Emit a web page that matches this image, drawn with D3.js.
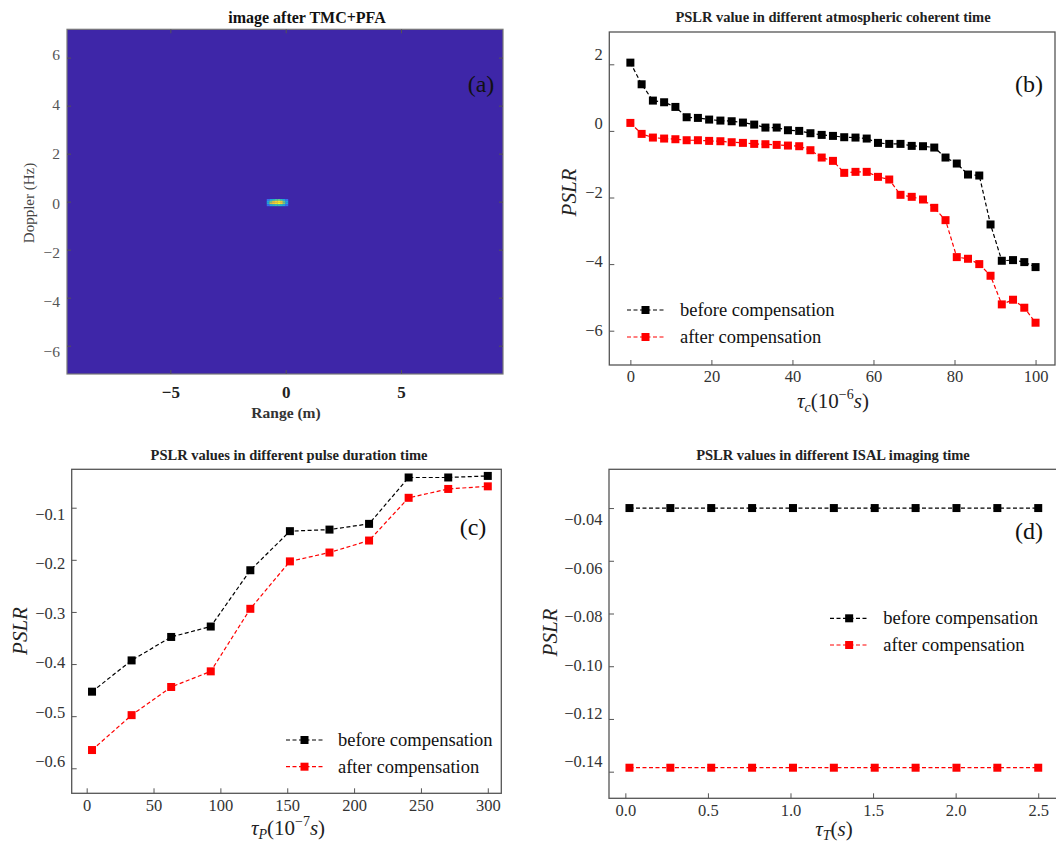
<!DOCTYPE html>
<html>
<head>
<meta charset="utf-8">
<script src="https://cdn.jsdelivr.net/npm/d3@7"></script>
<style>
  body { margin: 0; background: #fff; }
  svg { display: block; }
  svg text { font-family: "Liberation Serif", "Times New Roman", "DejaVu Serif", serif; }
</style>
</head>
<body>
<svg id="fig" width="1056" height="845"></svg>
<script>
// ---- (a) image after TMC+PFA ----
const rangeTicks = [-5, 0, 5];
const dopplerTicks = [6, 4, 2, 0, -2, -4, -6];
const blobRange = [-0.82, 0.1];      // m
const blobDoppler = [0.11, -0.18];   // Hz
const blobCells = [
  [0.20, 0.35, 0.45, 0.55, 0.60, 0.50, 0.35, 0.20],
  [0.35, 0.62, 0.80, 0.90, 0.95, 0.85, 0.60, 0.35],
  [0.40, 0.78, 0.88, 0.93, 1.00, 0.90, 0.65, 0.35],
  [0.20, 0.35, 0.45, 0.50, 0.50, 0.45, 0.35, 0.20]
];

// ---- (b) atmospheric coherent time ----
const tauC = [0, 2.78, 5.56, 8.33, 11.11, 13.89, 16.67, 19.44, 22.22, 25, 27.78, 30.56,
  33.33, 36.11, 38.89, 41.67, 44.44, 47.22, 50, 52.78, 55.56, 58.33, 61.11, 63.89,
  66.67, 69.44, 72.22, 75, 77.78, 80.56, 83.33, 86.11, 88.89, 91.67, 94.44, 97.22, 100];
const beforeB = [2.05, 1.40, 0.91, 0.86, 0.72, 0.41, 0.39, 0.34, 0.31, 0.29, 0.25, 0.19,
  0.10, 0.10, 0.02, 0.00, -0.07, -0.12, -0.15, -0.19, -0.20, -0.23, -0.36, -0.39,
  -0.39, -0.45, -0.46, -0.50, -0.80, -0.98, -1.31, -1.34, -2.81, -3.90, -3.88, -3.94, -4.09];
const afterB = [0.24, -0.09, -0.20, -0.23, -0.25, -0.28, -0.28, -0.30, -0.31, -0.34, -0.36, -0.39,
  -0.40, -0.42, -0.44, -0.46, -0.58, -0.80, -0.90, -1.26, -1.23, -1.23, -1.38, -1.46,
  -1.92, -1.98, -2.06, -2.31, -2.68, -3.79, -3.84, -4.00, -4.35, -5.21, -5.07, -5.31, -5.76];
const ticksBx = [0, 20, 40, 60, 80, 100];
const ticksBy = [2, 0, -2, -4, -6];

// ---- (c) pulse duration time ----
const tauP = [4, 33.6, 63.2, 92.8, 122.4, 152, 181.6, 211.2, 240.8, 270.4, 300];
const beforeC = [-0.453, -0.393, -0.348, -0.328, -0.220, -0.145, -0.142, -0.131, -0.042, -0.042, -0.039];
const afterC = [-0.565, -0.498, -0.444, -0.414, -0.294, -0.203, -0.186, -0.163, -0.081, -0.064, -0.059];
const ticksCx = [0, 50, 100, 150, 200, 250, 300];
const ticksCy = [-0.1, -0.2, -0.3, -0.4, -0.5, -0.6];

// ---- (d) ISAL imaging time ----
const tauT = [0.025, 0.2725, 0.52, 0.7675, 1.015, 1.2625, 1.51, 1.7575, 2.005, 2.2525, 2.5];
const beforeD = [-0.04, -0.04, -0.04, -0.04, -0.04, -0.04, -0.04, -0.04, -0.04, -0.04, -0.04];
const afterD = [-0.1385, -0.1385, -0.1385, -0.1385, -0.1385, -0.1385, -0.1385, -0.1385, -0.1385, -0.1385, -0.1385];
const ticksDx = [0, 0.5, 1.0, 1.5, 2.0, 2.5];
const ticksDy = [-0.04, -0.06, -0.08, -0.10, -0.12, -0.14];

const legendNames = ['before compensation', 'after compensation'];
const seriesColors = ['#000', '#ff0000'];

const serif = '"Liberation Serif", "Times New Roman", "DejaVu Serif", serif';
const svg = d3.select('#fig');
const frameColor = '#555';

function translate(x, y) {
    return `translate(${x},${y})`;
}

// inward ticks, no domain line (frame drawn separately)
function styleAxis(g) {
    g.attr('font-family', null);
    g.select('.domain').remove();
    g.selectAll('.tick line').attr('stroke', frameColor).attr('stroke-width', 1);
    g.selectAll('.tick text').style('font-family', serif);
}

function mathLabel(sel, x, y, sub, sup) {
    let t = sel.append('text')
        .attr('x', x).attr('y', y)
        .attr('text-anchor', 'middle')
        .attr('font-size', 21)
        .attr('fill', '#222');
    t.append('tspan').attr('font-style', 'italic').text('τ');
    t.append('tspan').attr('font-style', 'italic').attr('font-size', 14).attr('dy', 4).text(sub);
    t.append('tspan').attr('dy', -4).text(sup ? '(10' : '(');
    if (sup) {
        t.append('tspan').attr('font-size', 14).attr('dy', -9).text(sup);
        t.append('tspan').attr('font-style', 'italic').attr('dy', 9).text('s');
    } else {
        t.append('tspan').attr('font-style', 'italic').text('s');
    }
    t.append('tspan').text(')');
}

// ---------------- panel (a) ----------------
(function () {
    let box = {l: 67, t: 29.3, r: 503, b: 374};
    let x = d3.scaleLinear().domain([-9.48, 9.42]).range([box.l, box.r]);
    let y = d3.scaleLinear().domain([-7.18, 7.18]).range([box.b, box.t]);
    let yLab = d3.scaleLinear().domain([6, -6]).range([55, 351.3]);
    let g = svg.append('g');

    g.append('rect')
        .attr('x', box.l).attr('y', box.t)
        .attr('width', box.r - box.l).attr('height', box.b - box.t)
        .attr('fill', '#3e26a8');

    let parula = d3.interpolateRgbBasis(['#3e26a8', '#4746eb', '#2e87f7', '#17a9e0', '#26beb8',
        '#6ccb82', '#c1c23f', '#fcbe3c', '#f9fb15']);
    let nCols = blobCells[0].length, nRows = blobCells.length;
    let cw = (blobRange[1] - blobRange[0]) / nCols;
    let ch = (blobDoppler[0] - blobDoppler[1]) / nRows;
    blobCells.forEach((row, ri) => {
        g.selectAll(null)
            .data(row)
            .enter()
            .append('rect')
            .attr('x', (d, ci) => x(blobRange[0] + ci * cw))
            .attr('y', y(blobDoppler[0] - ri * ch))
            .attr('width', x(cw) - x(0) + 0.2)
            .attr('height', y(0) - y(ch) + 0.2)
            .attr('fill', d => parula(d));
    });

    g.append('rect')
        .attr('x', box.l).attr('y', box.t)
        .attr('width', box.r - box.l).attr('height', box.b - box.t)
        .attr('fill', 'none').attr('stroke', '#777').attr('stroke-width', 1.2);

    let xa = g.append('g').attr('transform', translate(0, box.b))
        .call(d3.axisBottom(x).tickValues(rangeTicks).tickSize(-4).tickPadding(12))
        .call(styleAxis);
    xa.selectAll('text')
        .attr('font-size', 17).attr('font-weight', 'bold').attr('fill', '#222');
    g.append('g').attr('transform', translate(0, box.t))
        .call(d3.axisTop(x).tickValues(rangeTicks).tickSize(-4).tickFormat(''))
        .call(styleAxis);

    let ya = g.append('g').attr('transform', translate(box.l, 0))
        .call(d3.axisLeft(y).tickValues(dopplerTicks).tickSize(-4).tickPadding(7))
        .call(styleAxis);
    ya.selectAll('text')
        .attr('font-size', 15.5).attr('fill', '#555')
        .attr('y', d => yLab(d) - y(d));
    g.append('g').attr('transform', translate(box.r, 0))
        .call(d3.axisRight(y).tickValues(dopplerTicks).tickSize(-4).tickFormat(''))
        .call(styleAxis);

    g.append('text')
        .attr('x', 307).attr('y', 23)
        .attr('text-anchor', 'middle')
        .attr('font-size', 16).attr('font-weight', 'bold').attr('fill', '#111')
        .text('image after TMC+PFA');
    g.append('text')
        .attr('x', 286).attr('y', 418)
        .attr('text-anchor', 'middle')
        .attr('font-size', 15.5).attr('font-weight', 'bold').attr('fill', '#333')
        .text('Range (m)');
    g.append('text')
        .attr('transform', translate(28.5, 203) + ' rotate(-90)')
        .attr('text-anchor', 'middle')
        .attr('dominant-baseline', 'central')
        .attr('font-size', 15).attr('fill', '#444')
        .text('Doppler (Hz)');
    g.append('text')
        .attr('x', 481).attr('y', 92)
        .attr('text-anchor', 'middle')
        .attr('font-size', 24).attr('fill', '#111')
        .text('(a)');
})();

// ---------------- line panels (b), (c), (d) ----------------
function linePanel(cfg) {
    let box = cfg.box;
    let x = d3.scaleLinear().domain(cfg.xDomain).range([box.l, box.r]);
    let y = d3.scaleLinear().domain(cfg.yDomain).range([box.b, box.t]);
    let yLab = d3.scaleLinear()
        .domain([cfg.yTicks[0], cfg.yTicks[cfg.yTicks.length - 1]])
        .range(cfg.yLabelRange);
    let g = svg.append('g');

    let defs = svg.append('defs');
    let clipId = 'clip_' + cfg.name;
    defs.append('clipPath').attr('id', clipId)
        .append('rect')
        .attr('x', box.l).attr('y', box.t)
        .attr('width', box.r - box.l).attr('height', box.b - box.t);

    g.append('rect')
        .attr('x', box.l).attr('y', box.t)
        .attr('width', box.r - box.l).attr('height', box.b - box.t)
        .attr('fill', 'none').attr('stroke', frameColor).attr('stroke-width', 1.3);

    let xa = g.append('g').attr('transform', translate(0, box.b))
        .call(d3.axisBottom(x).tickValues(cfg.xTicks).tickSize(-5)
            .tickPadding(cfg.xPad).tickFormat(d3.format(cfg.xFmt)))
        .call(styleAxis);
    xa.selectAll('text')
        .attr('font-size', 16.5).attr('fill', '#333');

    let ya = g.append('g').attr('transform', translate(box.l, 0))
        .call(d3.axisLeft(y).tickValues(cfg.yTicks).tickSize(-5)
            .tickPadding(6.5).tickFormat(d3.format(cfg.yFmt)))
        .call(styleAxis);
    ya.selectAll('text')
        .attr('font-size', 16.5).attr('fill', '#333')
        .attr('y', d => yLab(d) - y(d));

    let line = d3.line().x(d => x(d[0])).y(d => y(d[1]));
    let ms = 8;
    let plot = g.append('g').attr('clip-path', `url(#${clipId})`);
    cfg.series.forEach((vals, si) => {
        let pts = cfg.xs.map((xv, i) => [xv, vals[i]]);
        plot.append('path')
            .datum(pts)
            .attr('d', line)
            .attr('fill', 'none')
            .attr('stroke', seriesColors[si])
            .attr('stroke-width', 1.2)
            .attr('stroke-dasharray', '4,2.5');
        plot.selectAll(null)
            .data(pts)
            .enter()
            .append('rect')
            .attr('x', d => x(d[0]) - ms / 2)
            .attr('y', d => y(d[1]) - ms / 2)
            .attr('width', ms).attr('height', ms)
            .attr('fill', seriesColors[si]);
    });

    // legend
    let lg = g.append('g');
    legendNames.forEach((name, i) => {
        let ly = cfg.legend.y[i];
        lg.append('line')
            .attr('x1', cfg.legend.x0).attr('x2', cfg.legend.x1)
            .attr('y1', ly).attr('y2', ly)
            .attr('stroke', seriesColors[i]).attr('stroke-width', 1.2)
            .attr('stroke-dasharray', '4,2.5');
        lg.append('rect')
            .attr('x', (cfg.legend.x0 + cfg.legend.x1) / 2 - ms / 2)
            .attr('y', ly - ms / 2)
            .attr('width', ms).attr('height', ms)
            .attr('fill', seriesColors[i]);
        lg.append('text')
            .attr('x', cfg.legend.tx).attr('y', ly + 6)
            .attr('font-size', 18.5).attr('fill', '#111')
            .text(name);
    });

    g.append('text')
        .attr('x', cfg.title.x).attr('y', cfg.title.y)
        .attr('text-anchor', 'middle')
        .attr('font-size', 14.5).attr('font-weight', 'bold').attr('fill', '#222')
        .text(cfg.title.text);

    g.append('text')
        .attr('transform', translate(cfg.yLabel.x, cfg.yLabel.y) + ' rotate(-90)')
        .attr('text-anchor', 'middle')
        .attr('dominant-baseline', 'central')
        .attr('font-size', 21).attr('font-style', 'italic').attr('fill', '#222')
        .text('PSLR');

    mathLabel(g, cfg.xLabel.x, cfg.xLabel.y, cfg.xLabel.sub, cfg.xLabel.sup);

    g.append('text')
        .attr('x', cfg.tag.x).attr('y', cfg.tag.y)
        .attr('text-anchor', 'middle')
        .attr('font-size', 24).attr('fill', '#111')
        .text(cfg.tag.text);
}

linePanel({
    name: 'b',
    box: {l: 609.3, t: 32, r: 1055, b: 365},
    xDomain: [-5.2, 104.8], yDomain: [-7.03, 2.97],
    xTicks: ticksBx, yTicks: ticksBy, xFmt: 'd', yFmt: 'd',
    xPad: 5.5, yLabelRange: [54, 330],
    xs: tauC, series: [beforeB, afterB],
    legend: {x0: 627, x1: 664, tx: 680, y: [310, 337]},
    title: {x: 833, y: 22, text: 'PSLR value in different atmospheric coherent time'},
    yLabel: {x: 569, y: 192.5},
    xLabel: {x: 833, y: 408, sub: 'c', sup: '−6'},
    tag: {x: 1029, y: 92, text: '(b)'}
});

linePanel({
    name: 'c',
    box: {l: 71.7, t: 469.3, r: 501.3, b: 793.3},
    xDomain: [-11.2, 310.1], yDomain: [-0.648, -0.0263],
    xTicks: ticksCx, yTicks: ticksCy, xFmt: 'd', yFmt: '.1f',
    xPad: 6, yLabelRange: [514, 761.7],
    xs: tauP, series: [beforeC, afterC],
    legend: {x0: 286, x1: 323, tx: 338, y: [740, 766.7]},
    title: {x: 289, y: 460, text: 'PSLR values in different pulse duration time'},
    yLabel: {x: 19.5, y: 631},
    xLabel: {x: 288, y: 835, sub: 'P', sup: '−7'},
    tag: {x: 473, y: 535, text: '(c)'}
});

linePanel({
    name: 'd',
    box: {l: 609, t: 469.3, r: 1058.7, b: 798.3},
    xDomain: [-0.099, 2.624], yDomain: [-0.1501, -0.0253],
    xTicks: ticksDx, yTicks: ticksDy, xFmt: '.1f', yFmt: '.2f',
    xPad: 6, yLabelRange: [519.3, 761.7],
    xs: tauT, series: [beforeD, afterD],
    legend: {x0: 830, x1: 868.3, tx: 883.3, y: [618.3, 645]},
    title: {x: 833, y: 460, text: 'PSLR values in different ISAL imaging time'},
    yLabel: {x: 550, y: 632.5},
    xLabel: {x: 834, y: 836, sub: 'T', sup: null},
    tag: {x: 1029, y: 539, text: '(d)'}
});
</script>
</body>
</html>
